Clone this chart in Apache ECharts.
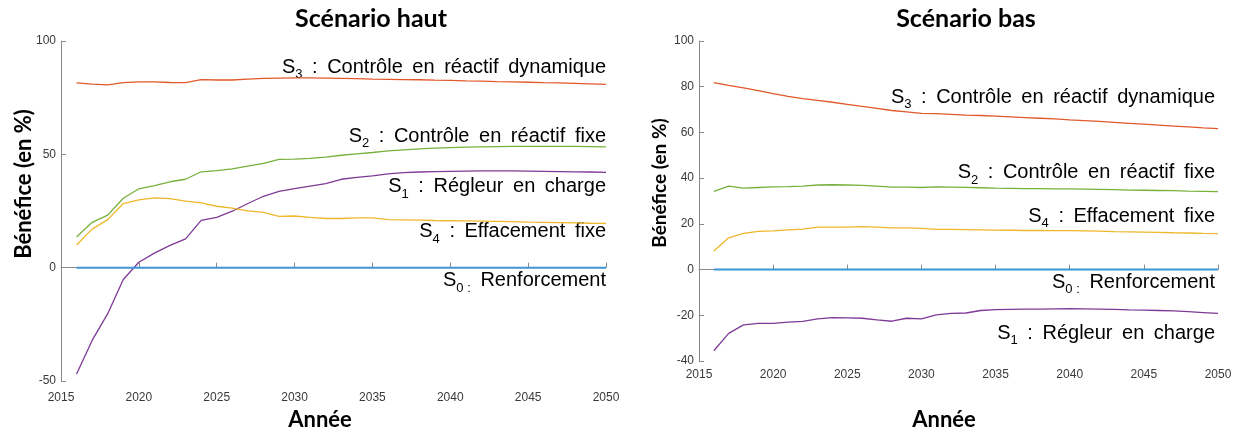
<!DOCTYPE html>
<html><head><meta charset="utf-8">
<script src="https://cdn.jsdelivr.net/npm/echarts@6/dist/echarts.min.js"></script>
<style>html,body{margin:0;padding:0;background:#fff}#c{width:1238px;height:433px}</style>
</head><body><div id="c"></div>
<script>
const years = [2016,2017,2018,2019,2020,2021,2022,2023,2024,2025,2026,2027,2028,2029,2030,2031,2032,2033,2034,2035,2036,2037,2038,2039,2040,2041,2042,2043,2044,2045,2046,2047,2048,2049,2050];
const xTicks = [2015,2020,2025,2030,2035,2040,2045,2050];

// Scénario haut
const hautS0 = [0,0,0,0,0,0,0,0,0,0,0,0,0,0,0,0,0,0,0,0,0,0,0,0,0,0,0,0,0,0,0,0,0,0,0];
const hautS1 = [-46.9,-32.1,-20.3,-5.2,2.4,6.4,9.8,12.7,20.9,22.2,24.9,28.3,31.5,33.7,34.9,36,37.1,39,39.8,40.5,41.4,41.9,42.2,42.4,42.5,42.6,42.7,42.7,42.7,42.6,42.5,42.4,42.3,42.2,42];
const hautS2 = [13.5,20,23.2,30.6,34.8,36.2,37.9,39,42.3,42.8,43.6,44.8,46,47.8,47.9,48.2,48.8,49.6,50.2,50.8,51.5,52,52.4,52.7,53,53.2,53.3,53.4,53.5,53.5,53.5,53.5,53.5,53.4,53.3];
const hautS3 = [81.5,81,80.6,81.6,82,82,81.7,81.6,83,82.8,82.8,83.2,83.5,83.6,83.7,83.7,83.6,83.5,83.4,83.2,83.1,83,82.9,82.7,82.6,82.4,82.3,82.1,82,81.8,81.6,81.5,81.3,81.1,80.9];
const hautS4 = [10,17,21.2,28.3,29.9,30.8,30.5,29.4,28.6,27.1,26.3,25.1,24.4,22.6,22.8,22.2,21.7,21.7,22,22,21.2,21.1,21,20.8,20.7,20.6,20.5,20.4,20.3,20.1,20,19.9,19.8,19.6,19.5];

// Scénario bas
const basS0 = [0,0,0,0,0,0,0,0,0,0,0,0,0,0,0,0,0,0,0,0,0,0,0,0,0,0,0,0,0,0,0,0,0,0,0];
const basS1 = [-35.5,-27.9,-24.2,-23.5,-23.5,-23,-22.7,-21.6,-21,-21.1,-21.3,-22,-22.6,-21.3,-21.6,-19.8,-19.2,-19,-17.9,-17.5,-17.4,-17.3,-17.3,-17.2,-17.1,-17.2,-17.3,-17.4,-17.6,-17.7,-17.9,-18.1,-18.4,-18.8,-19.2];
const basS2 = [34.2,36.5,35.6,35.9,36.2,36.3,36.5,37,37.1,37,36.8,36.5,36.1,36.1,35.9,36.2,36.1,36,35.8,35.6,35.5,35.4,35.4,35.3,35.3,35.2,35.1,35,34.8,34.7,34.6,34.5,34.3,34.2,34.1];
const basS3 = [81.8,80.6,79.5,78.3,77,75.8,74.8,74,73.2,72.3,71.4,70.5,69.6,69,68.3,68.2,67.9,67.6,67.4,67.1,66.8,66.5,66.2,65.9,65.5,65.2,64.8,64.4,64,63.6,63.2,62.8,62.4,62,61.7];
const basS4 = [8.1,13.9,15.8,16.7,16.9,17.4,17.7,18.6,18.6,18.6,18.8,18.6,18.2,18.2,18,17.6,17.6,17.5,17.4,17.3,17.2,17.1,17.1,17,17,16.9,16.8,16.6,16.5,16.4,16.3,16.1,16,15.8,15.7];

const titles = ['Scénario haut','Scénario bas'];
const yName = 'Bénéfice (en %)';
const xName = 'Année';
// label texts: [subscript, text, anchor value]
const labelsHaut = [['3',' : Contrôle en réactif dynamique',88.5],['2',' : Contrôle en réactif fixe',58],['1',' : Régleur en charge',35.6],['4',' : Effacement fixe',15.8],['0 :',' Renforcement',-5.8]];
const labelsBas = [['3',' : Contrôle en réactif dynamique',75.5],['2',' : Contrôle en réactif fixe',42.5],['4',' : Effacement fixe',23.4],['0 :',' Renforcement',-5.5],['1',' : Régleur en charge',-27.9]];

const colors = {S0:'#3f95d6',S1:'#7e3a96',S2:'#77b13c',S3:'#e2582a',S4:'#efb72a'};
const pair = arr => years.map((y,i)=>[y,arr[i]]);

const chart = echarts.init(document.getElementById('c'));
const axisCol = '#8a8a8a';
const tickFont = {fontFamily:'Liberation Sans',fontSize:12,color:'#3a3a3a'};
function xAx(idx, margin){
  return {type:'value',gridIndex:idx,min:2015,max:2050,interval:5,
    axisLine:{lineStyle:{color:axisCol,width:1}},axisTick:{inside:true,length:5,lineStyle:{color:axisCol}},
    splitLine:{show:false},axisLabel:Object.assign({margin:margin,formatter:v=>String(v)},tickFont)};
}
function yAx(idx,min,max,interval){
  return {type:'value',gridIndex:idx,min:min,max:max,interval:interval,
    axisLine:{show:true,lineStyle:{color:axisCol,width:1}},axisTick:{show:true,inside:true,length:5,lineStyle:{color:axisCol}},
    splitLine:{show:false},axisLabel:Object.assign({margin:5,formatter:v=>String(v)},tickFont)};
}
function ser(name,data,idx,color,w){
  return {type:'line',name:name,xAxisIndex:idx,yAxisIndex:idx,data:pair(data),showSymbol:false,symbol:'none',
    lineStyle:{color:color,width:w},itemStyle:{color:color},animation:false,silent:true};
}
const option = {
  animation:false,
  grid:[{left:61,right:632,top:41,bottom:52},{left:699,right:20,top:41,bottom:72}],
  xAxis:[xAx(0,11),xAx(1,8)],
  yAxis:[yAx(0,-50,100,50),yAx(1,-40,100,20)],
  series:[
    ser('S1',hautS1,0,colors.S1,1.3),ser('S4',hautS4,0,colors.S4,1.3),ser('S2',hautS2,0,colors.S2,1.3),ser('S3',hautS3,0,colors.S3,1.3),ser('S0',hautS0,0,colors.S0,2),
    ser('S1',basS1,1,colors.S1,1.3),ser('S4',basS4,1,colors.S4,1.3),ser('S2',basS2,1,colors.S2,1.3),ser('S3',basS3,1,colors.S3,1.3),ser('S0',basS0,1,colors.S0,2)
  ]
};
chart.setOption(option);

const boldFont = 'Lato';
const g = [];
g.push({type:'text',x:371,y:19,style:{text:titles[0],font:'bold 25px '+boldFont,fill:'#000',align:'center',verticalAlign:'middle'}});
g.push({type:'text',x:966,y:19,style:{text:titles[1],font:'bold 25px '+boldFont,fill:'#000',align:'center',verticalAlign:'middle'}});
g.push({type:'text',x:24,y:184,rotation:Math.PI/2,style:{text:yName,font:'bold 22px '+boldFont,fill:'#000',align:'center',verticalAlign:'middle'}});
g.push({type:'text',x:660,y:183,rotation:Math.PI/2,style:{text:yName,font:'bold 19px '+boldFont,fill:'#000',align:'center',verticalAlign:'middle'}});
g.push({type:'text',x:320,y:420,style:{text:xName,font:'bold 22px '+boldFont,fill:'#000',align:'center',verticalAlign:'middle'}});
g.push({type:'text',x:944,y:420,style:{text:xName,font:'bold 22px '+boldFont,fill:'#000',align:'center',verticalAlign:'middle'}});

function addLabels(list, gridIdx, xRightOffset){
  list.forEach(l=>{
    const p = chart.convertToPixel({gridIndex:gridIdx},[2050,l[2]]);
    g.push({type:'text',x:p[0]+xRightOffset,y:p[1],style:{
      text:'{m|S}{s|'+l[0]+'}{m|'+l[1].replace(/ /g,'\u2009 ')+'}',align:'right',verticalAlign:'middle',
      rich:{
        m:{fontFamily:'Liberation Sans',fontSize:20,color:'#1a1a1a',lineHeight:28,verticalAlign:'middle'},
        s:{fontFamily:'Liberation Sans',fontSize:13,color:'#1a1a1a',lineHeight:15,verticalAlign:'bottom'}
      }}});
  });
}
addLabels(labelsHaut,0,0);
addLabels(labelsBas,1,-3);
chart.setOption({graphic:g});
</script></body></html>
